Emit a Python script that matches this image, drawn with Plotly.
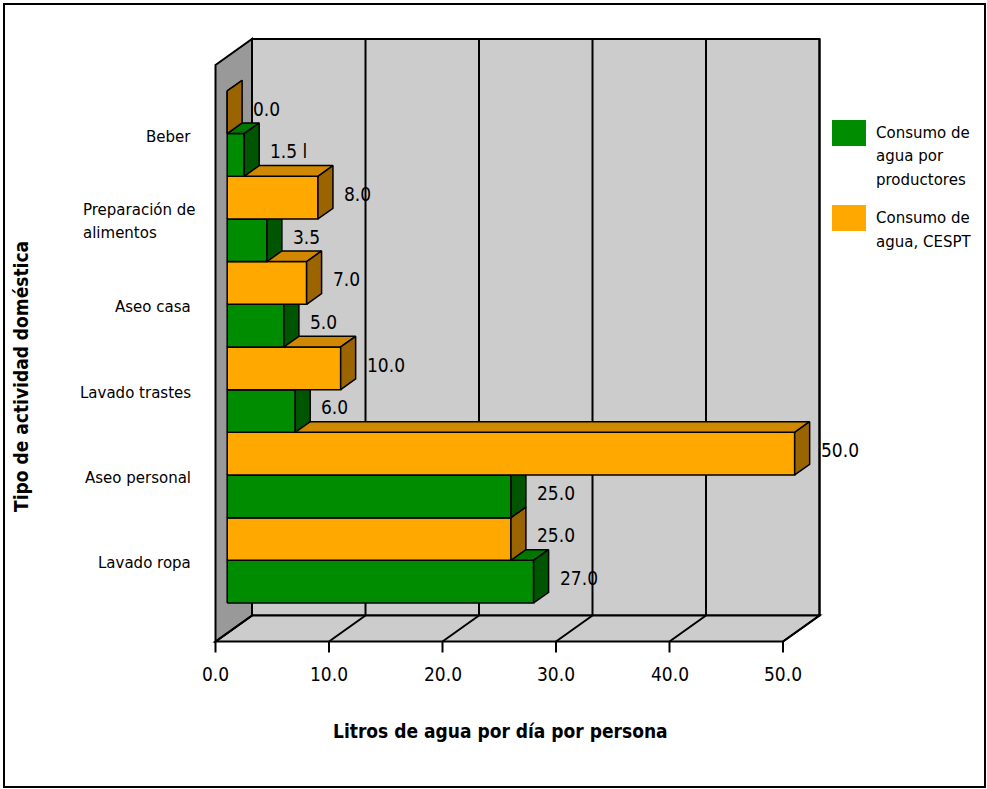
import plotly.graph_objects as go

# ---- data -------------------------------------------------------------
categories = ["Beber", "Preparación de\nalimentos", "Aseo casa",
              "Lavado trastes", "Aseo personal", "Lavado ropa"]
productores = [1.5, 3.5, 5.0, 6.0, 25.0, 27.0]      # Consumo de agua por productores
cespt = [0.0, 8.0, 7.0, 10.0, 50.0, 25.0]           # Consumo de agua, CESPT
productores_suffix = [" l", "", "", "", "", ""]
x_ticks = [0, 10, 20, 30, 40, 50]
series_names = ["Consumo de\nagua por\nproductores", "Consumo de\nagua, CESPT"]
x_title = "Litros de agua por día por persona"
y_title = "Tipo de actividad doméstica"

# ---- geometry of the pseudo-3D box -------------------------------------
W, H = 987, 789
PX_PER_UNIT = 11.35          # pixels per litre on the front plane
X0_PX = 215.5                # pixel position of 0 on the front plane
U_MIN = -X0_PX / PX_PER_UNIT
U_MAX = U_MIN + W / PX_PER_UNIT
DEPTH_U = 36.5 / PX_PER_UNIT  # horizontal shift of the back plane (axis units)
DEPTH_Y = 26.0               # vertical shift of the back plane (px)
TOP_Y, FLOOR_Y = 65.0, 641.5
X_MAX = x_ticks[-1]

BAR_Z0, BAR_Z1 = 0.32, 0.73  # front and back of the bars inside the box
ROW_PITCH = 42.67
BOTTOM_ROW_Y = 611.3

GREEN = ("#008C00", "#007800", "#005500")   # front, top, side
ORANGE = ("#FFA800", "#D08800", "#9A6400")
WALL_SIDE = "#999999"
WALL_BACK = "#CCCCCC"

NUM_FONT = "Liberation Sans Narrow, Arial Narrow, DejaVu Sans Condensed, sans-serif"
TXT_FONT = "DejaVu Sans, Verdana, sans-serif"


def proj(u, y, z):
    """Project a point at depth z (0 front, 1 back) to axis coordinates."""
    return u + z * DEPTH_U, y - z * DEPTH_Y


def px(xp):
    return xp / W


def py(yp):
    return 1 - yp / H


def path(points):
    return "M " + " L ".join(f"{x:.4f},{y:.3f}" for x, y in points) + " Z"


fig = go.Figure()
shapes = []
annotations = []

# ---- walls, floor and gridlines ---------------------------------------
left_wall = [proj(0, TOP_Y, 0), proj(0, TOP_Y, 1), proj(0, FLOOR_Y, 1), proj(0, FLOOR_Y, 0)]
back_wall = [proj(0, TOP_Y, 1), proj(X_MAX, TOP_Y, 1), proj(X_MAX, FLOOR_Y, 1), proj(0, FLOOR_Y, 1)]
floor = [proj(0, FLOOR_Y, 0), proj(X_MAX, FLOOR_Y, 0), proj(X_MAX, FLOOR_Y, 1), proj(0, FLOOR_Y, 1)]
edge = dict(color="black", width=2)
for poly, col in ((back_wall, WALL_BACK), (floor, WALL_BACK), (left_wall, WALL_SIDE)):
    shapes.append(dict(type="path", xref="x", yref="y", path=path(poly),
                       fillcolor=col, line=edge, layer="below"))

for t in x_ticks:
    bx0, by0 = proj(t, TOP_Y, 1)
    bx1, by1 = proj(t, FLOOR_Y, 1)
    shapes.append(dict(type="line", xref="x", yref="y", x0=bx0, y0=by0, x1=bx1, y1=by1,
                       line=edge, layer="below"))
    fx, fy = proj(t, FLOOR_Y, 0)
    shapes.append(dict(type="line", xref="x", yref="y", x0=fx, y0=fy, x1=bx1, y1=by1,
                       line=edge, layer="below"))
    shapes.append(dict(type="line", xref="x", yref="y", x0=fx, y0=fy, x1=fx, y1=fy + 11,
                       line=edge, layer="below"))
    annotations.append(dict(x=fx, y=fy + 32, xref="x", yref="y", text=f"{t:.1f}",
                            showarrow=False, xanchor="center", yanchor="middle",
                            font=dict(family=NUM_FONT, size=19, color="black")))


# ---- bars --------------------------------------------------------------
def add_bar(value, row, colors, label):
    yb = BOTTOM_ROW_Y - row * ROW_PITCH
    yt = yb - ROW_PITCH
    front = [proj(0, yb, BAR_Z0), proj(value, yb, BAR_Z0), proj(value, yt, BAR_Z0), proj(0, yt, BAR_Z0)]
    top = [proj(0, yt, BAR_Z0), proj(value, yt, BAR_Z0), proj(value, yt, BAR_Z1), proj(0, yt, BAR_Z1)]
    side = [proj(value, yb, BAR_Z0), proj(value, yb, BAR_Z1), proj(value, yt, BAR_Z1), proj(value, yt, BAR_Z0)]
    for poly, col in zip((front, top, side), colors):
        xs = [p[0] for p in poly] + [poly[0][0]]
        ys = [p[1] for p in poly] + [poly[0][1]]
        fig.add_trace(go.Scatter(x=xs, y=ys, mode="lines", fill="toself", fillcolor=col,
                                 line=dict(color="black", width=1.5),
                                 hoverinfo="skip", showlegend=False))
    lx, ly = proj(value, (yb + yt) / 2, BAR_Z1)
    annotations.append(dict(x=lx + 9 / PX_PER_UNIT, y=ly + 7, xref="x", yref="y",
                            text=label, showarrow=False, xanchor="left", yanchor="middle",
                            font=dict(family=NUM_FONT, size=19, color="black")))


n = len(categories)
for k in range(n):                   # draw from the bottom row upwards
    i = n - 1 - k
    add_bar(productores[i], 2 * k, GREEN, f"{productores[i]:.1f}{productores_suffix[i]}")
    add_bar(cespt[i], 2 * k + 1, ORANGE, f"{cespt[i]:.1f}")

# ---- category labels ----------------------------------------------------
for k in range(n):
    i = n - 1 - k
    yc = BOTTOM_ROW_Y - (2 * k + 1) * ROW_PITCH - BAR_Z0 * DEPTH_Y + 3
    lines = categories[i].split("\n")
    for j, s in enumerate(lines):
        yy = yc + (j - (len(lines) - 1) / 2) * 23
        annotations.append(dict(x=px(193) if len(lines) == 1 else px(81), y=py(yy),
                                xref="paper", yref="paper", text=s, showarrow=False,
                                xanchor="right" if len(lines) == 1 else "left",
                                yanchor="middle",
                                font=dict(family=TXT_FONT, size=15, color="black")))

# ---- axis titles ---------------------------------------------------------
annotations.append(dict(x=px(500), y=py(731), xref="paper", yref="paper",
                        text=f"<b>{x_title}</b>", showarrow=False,
                        xanchor="center", yanchor="middle",
                        font=dict(family=NUM_FONT, size=19, color="black")))
annotations.append(dict(x=px(21), y=py(377), xref="paper", yref="paper",
                        text=f"<b>{y_title}</b>", showarrow=False, textangle=-90,
                        xanchor="center", yanchor="middle",
                        font=dict(family=NUM_FONT, size=19, color="black")))

# ---- legend --------------------------------------------------------------
legend_tops = [120, 205]
for name, col, top in zip(series_names, (GREEN[0], ORANGE[0]), legend_tops):
    shapes.append(dict(type="rect", xref="paper", yref="paper",
                       x0=px(832), x1=px(866), y0=py(top), y1=py(top + 26),
                       fillcolor=col, line=dict(width=0)))
    for j, s in enumerate(name.split("\n")):
        annotations.append(dict(x=px(874), y=py(top + 13 + 23.5 * j), xref="paper", yref="paper",
                                text=s, showarrow=False, xanchor="left", yanchor="middle",
                                font=dict(family=TXT_FONT, size=15, color="black")))

# ---- outer frame -----------------------------------------------------------
shapes.append(dict(type="rect", xref="paper", yref="paper",
                   x0=px(4), x1=px(985), y0=py(787), y1=py(4),
                   line=dict(color="black", width=2), fillcolor="rgba(0,0,0,0)"))

fig.update_layout(
    width=W, height=H,
    margin=dict(l=0, r=0, t=0, b=0),
    paper_bgcolor="white", plot_bgcolor="white",
    xaxis=dict(range=[U_MIN, U_MAX], visible=False, fixedrange=True),
    yaxis=dict(range=[H, 0], visible=False, fixedrange=True),
    shapes=shapes, annotations=annotations, showlegend=False,
)

fig.write_html("out.html")
